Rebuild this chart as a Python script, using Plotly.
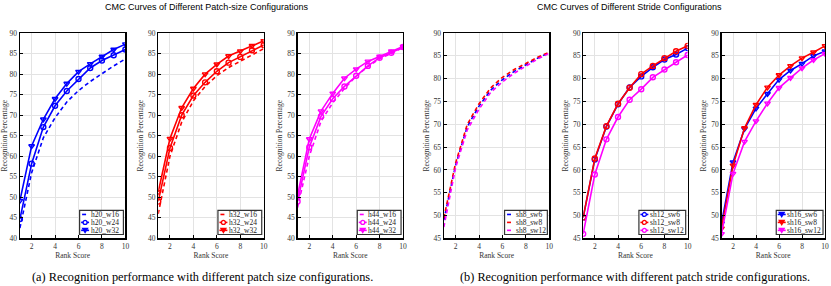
import plotly.graph_objects as go

W, H = 831, 286

ranks = [1, 2, 3, 4, 5, 6, 7, 8, 9, 10]

h20_w16 = [42.5, 56.0, 64.5, 69.4, 73.2, 76.0, 78.2, 80.2, 82.0, 83.7]
h20_w24 = [44.7, 58.2, 67.1, 72.3, 75.9, 78.8, 81.5, 83.3, 84.6, 86.0]
h20_w32 = [49.2, 62.5, 69.0, 74.0, 77.7, 80.6, 82.5, 84.3, 86.0, 87.3]

h32_w16 = [46.0, 60.0, 68.3, 73.5, 77.0, 79.6, 81.6, 83.2, 84.8, 86.2]
h32_w24 = [49.0, 62.0, 70.0, 74.8, 78.0, 80.7, 82.8, 84.2, 85.8, 87.1]
h32_w32 = [51.3, 64.3, 71.8, 76.5, 80.0, 82.4, 84.4, 85.6, 86.9, 88.1]

h44_w16 = [47.5, 60.0, 68.5, 73.0, 76.5, 79.5, 81.8, 83.8, 85.0, 86.5]
h44_w24 = [49.0, 62.2, 69.7, 74.0, 77.0, 79.6, 82.0, 84.0, 85.2, 86.6]
h44_w32 = [50.5, 64.2, 71.0, 75.3, 79.0, 81.2, 83.1, 84.3, 85.6, 86.7]

sh8_sw6 = [49.0, 61.0, 69.5, 74.0, 77.5, 79.8, 81.6, 83.0, 84.5, 85.7]
sh8_sw8 = [49.5, 61.5, 70.0, 74.5, 78.0, 80.3, 82.0, 83.3, 84.7, 85.8]
sh8_sw12 = [47.5, 60.5, 68.8, 73.3, 77.0, 79.3, 81.2, 82.8, 84.3, 85.6]

sh12_sw6 = [49.6, 62.3, 69.5, 74.4, 78.1, 80.5, 82.5, 84.2, 85.3, 86.7]
sh12_sw8 = [49.6, 62.5, 69.6, 74.5, 78.0, 81.0, 82.8, 84.5, 86.0, 87.2]
sh12_sw12 = [46.0, 59.0, 66.7, 71.6, 75.4, 77.7, 80.3, 82.0, 83.6, 85.2]

sh16_sw6 = [48.3, 61.7, 69.0, 73.5, 76.7, 79.8, 81.8, 83.3, 85.0, 86.0]
sh16_sw8 = [47.2, 61.0, 69.2, 74.3, 78.1, 80.8, 82.8, 84.5, 85.8, 87.2]
sh16_sw12 = [46.0, 59.2, 66.2, 70.7, 74.6, 78.0, 80.2, 82.3, 84.1, 85.5]

x_ticks = [2, 4, 6, 8, 10]
group_titles = ["CMC Curves of Different Patch-size Configurations",
                "CMC Curves of Different Stride Configurations"]
captions = ["(a) Recognition performance with different patch size configurations.",
            "(b) Recognition performance with different patch stride configurations."]
x_title = "Rank Score"
y_title = "Recognition Percentage"

BLUE, RED, MAG = "#0000ff", "#ff0000", "#ff00ff"
SERIF = "Liberation Serif"
SANS = "Liberation Sans"

panels = [
    ([("h20_w16", h20_w16, BLUE, "dash"), ("h20_w24", h20_w24, BLUE, "circle"), ("h20_w32", h20_w32, BLUE, "tri")], [40, 90]),
    ([("h32_w16", h32_w16, RED, "dash"), ("h32_w24", h32_w24, RED, "circle"), ("h32_w32", h32_w32, RED, "tri")], [40, 90]),
    ([("h44_w16", h44_w16, MAG, "dash"), ("h44_w24", h44_w24, MAG, "circle"), ("h44_w32", h44_w32, MAG, "tri")], [40, 90]),
    ([("sh8_sw6", sh8_sw6, BLUE, "dash"), ("sh8_sw8", sh8_sw8, RED, "dash"), ("sh8_sw12", sh8_sw12, MAG, "dash")], [45, 90]),
    ([("sh12_sw6", sh12_sw6, BLUE, "circle"), ("sh12_sw8", sh12_sw8, RED, "circle"), ("sh12_sw12", sh12_sw12, MAG, "circle")], [45, 90]),
    ([("sh16_sw6", sh16_sw6, BLUE, "tri"), ("sh16_sw8", sh16_sw8, RED, "tri"), ("sh16_sw12", sh16_sw12, MAG, "tri")], [45, 90]),
]
legend_widths = [44, 44, 44, 43, 47, 47]

px_left = [20, 159, 299, 446, 586, 725]
px_right = [126, 265, 405, 552, 691, 829]
PY_TOP, PY_BOT = 30, 242


def fx(px):
    return px / W


def fy(py):
    return 1 - py / H


fig = go.Figure()
shapes = []
annotations = []
layout = {}
GRAY = "#333333"

for i, (series, yr) in enumerate(panels):
    n = i + 1
    xa = "x" if n == 1 else f"x{n}"
    ya = "y" if n == 1 else f"y{n}"
    for name, vals, col, style in series:
        if style == "dash":
            fig.add_trace(go.Scatter(x=ranks, y=vals, mode="lines", name=name,
                                     line=dict(color=col, width=1.6, dash="4px,3px"),
                                     xaxis=xa, yaxis=ya, showlegend=False))
        else:
            sym = "circle-open" if style == "circle" else "triangle-down-open"
            fig.add_trace(go.Scatter(x=ranks, y=vals, mode="lines+markers", name=name,
                                     line=dict(color=col, width=1.6),
                                     marker=dict(symbol=sym, size=5, color=col,
                                                 line=dict(width=1.4, color=col)),
                                     xaxis=xa, yaxis=ya, showlegend=False))
    common = dict(showline=True, mirror=True, linecolor="black", linewidth=1.3,
                  showgrid=True, gridcolor="#e3e3e3", gridwidth=1,
                  ticks="inside", ticklen=3, tickcolor="black", tickwidth=1,
                  tickfont=dict(family=SERIF, size=7.5, color=GRAY),
                  zeroline=False, fixedrange=True)
    layout[f"xaxis{'' if n == 1 else n}"] = dict(
        common, domain=[fx(px_left[i]), fx(px_right[i])], range=[1, 10],
        tickvals=x_ticks, anchor=ya,
        title=dict(text=x_title, font=dict(family=SERIF, size=7.5, color=GRAY), standoff=2))
    layout[f"yaxis{'' if n == 1 else n}"] = dict(
        common, domain=[fy(PY_BOT), fy(PY_TOP)], range=yr, dtick=5, anchor=xa,
        title=dict(text=y_title, font=dict(family=SERIF, size=7.5, color=GRAY), standoff=3))

    # legend box (drawn in paper space)
    lw = legend_widths[i]
    bx1 = px_right[i] - 2
    bx0 = bx1 - lw
    by1 = PY_BOT - 4
    by0 = by1 - 25
    shapes.append(dict(type="rect", xref="paper", yref="paper",
                       x0=fx(bx0), x1=fx(bx1), y0=fy(by1), y1=fy(by0),
                       line=dict(color="#333333", width=1.2), fillcolor="white", layer="above"))
    for j, (name, vals, col, style) in enumerate(series):
        cy = by0 + 4.3 + j * 8.2
        if style == "dash":
            shapes.append(dict(type="line", xref="paper", yref="paper",
                               x0=fx(bx0 + 2.5), x1=fx(bx0 + 6.5), y0=fy(cy), y1=fy(cy),
                               line=dict(color=col, width=1.6), layer="above"))
        else:
            shapes.append(dict(type="line", xref="paper", yref="paper",
                               x0=fx(bx0 + 1.5), x1=fx(bx0 + 9.5), y0=fy(cy), y1=fy(cy),
                               line=dict(color=col, width=1.6), layer="above"))
            mx = bx0 + 5.5
            if style == "circle":
                shapes.append(dict(type="circle", xref="paper", yref="paper",
                                   x0=fx(mx - 2), x1=fx(mx + 2), y0=fy(cy + 2), y1=fy(cy - 2),
                                   line=dict(color=col, width=1.3), fillcolor="white", layer="above"))
            else:
                path = (f"M {fx(mx-2.5)} {fy(cy-2)} L {fx(mx+2.5)} {fy(cy-2)} "
                        f"L {fx(mx)} {fy(cy+2.3)} Z")
                shapes.append(dict(type="path", xref="paper", yref="paper", path=path,
                                   line=dict(color=col, width=1.3), fillcolor=col, layer="above"))
        annotations.append(dict(text=name, xref="paper", yref="paper",
                                x=fx(bx0 + 10), y=fy(cy), xanchor="left", yanchor="middle",
                                showarrow=False, borderpad=0,
                                font=dict(family=SERIF, size=7.5, color="#222222")))

for t, cx in zip(group_titles, [207, 633]):
    annotations.append(dict(text=t, xref="paper", yref="paper", x=fx(cx), y=fy(3.5),
                            xanchor="center", yanchor="middle", showarrow=False,
                            font=dict(family=SANS, size=9, color="black")))
for t, cx in zip(captions, [203, 638]):
    annotations.append(dict(text=t, xref="paper", yref="paper", x=fx(cx), y=fy(281.5),
                            xanchor="center", yanchor="middle", showarrow=False,
                            font=dict(family=SERIF, size=12.3, color="black")))

fig.update_layout(width=W, height=H, margin=dict(l=0, r=0, t=0, b=0),
                  paper_bgcolor="white", plot_bgcolor="white",
                  showlegend=False, shapes=shapes, annotations=annotations, **layout)

fig.write_html("out.html", config={"displayModeBar": False, "staticPlot": True},
               post_script="document.body.style.margin='0px';document.body.style.padding='0px';document.body.style.overflow='hidden';")
